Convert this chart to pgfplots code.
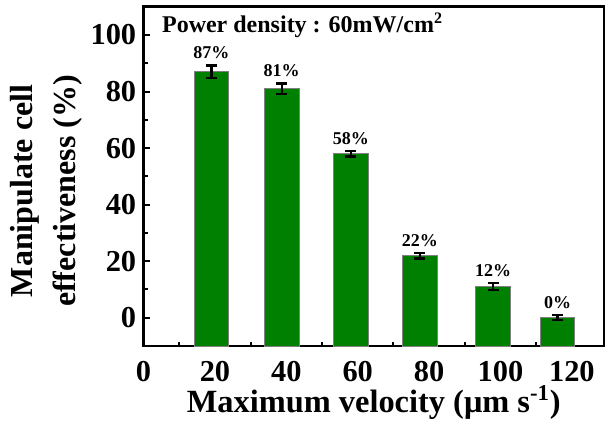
\documentclass[border=0pt]{standalone}
\usepackage{fontspec}
\setmainfont{Liberation Serif}
\usepackage{pgfplots}
\usepackage{pgfplotstable}
\pgfplotsset{compat=1.18}
\definecolor{bargreen}{RGB}{0,128,0}
\pgfplotstableread{
x y e lab
19.0 87 2.2 87
38.7 81 1.9 81
58.1 58 1.0 58
77.4 22 1.0 22
97.9 11 1.2 12
116.0 0 0.9 0
}\datatable
\begin{document}
\begin{tikzpicture}
\path[use as bounding box] (-71.8pt,-39.5pt) rectangle (230.7pt,173pt);
\begin{axis}[
  at={(0pt,0pt)}, anchor=south west,
  scale only axis, width=230.2pt, height=169.65pt,
  xmin=0, xmax=129, ymin=-10, ymax=110,
  xtick={0,20,...,120}, ytick={0,20,...,100},
  minor x tick num=1, minor y tick num=1,
  tick align=inside, xtick pos=bottom, ytick pos=left,
  major tick length=3.2pt, minor tick length=2pt,
  every tick/.style={black, line width=1pt},
  axis line style={line width=1.3pt},
  font=\bfseries,
  /pgf/number format/assume math mode=true,
  tick label style={font=\fontsize{15.2}{18}\selectfont\bfseries},
  yticklabel style={inner sep=0pt, xshift=-3.5pt},
  xticklabel style={inner sep=0pt, yshift=-7.3pt},
  xlabel={Maximum velocity (μm s\textsuperscript{-1})},
  xlabel style={at={(axis description cs:0.5,-0.197)}, anchor=base, inner sep=0pt, font=\fontsize{16.2}{19}\selectfont\bfseries},
  ylabel={Manipulate cell\\effectiveness (\%)},
  ylabel style={at={(axis description cs:-0.212,0.457)}, anchor=center, align=center, font=\fontsize{16}{21.5}\selectfont\bfseries},
]
\addplot[fill=bargreen, draw=gray, line width=0.4pt] coordinates {(14.18,-10) (14.18,87) (23.82,87) (23.82,-10)} -- cycle;
\addplot[fill=bargreen, draw=gray, line width=0.4pt] coordinates {(33.88,-10) (33.88,81) (43.52,81) (43.52,-10)} -- cycle;
\addplot[fill=bargreen, draw=gray, line width=0.4pt] coordinates {(53.28,-10) (53.28,58) (62.92,58) (62.92,-10)} -- cycle;
\addplot[fill=bargreen, draw=gray, line width=0.4pt] coordinates {(72.58,-10) (72.58,22) (82.22,22) (82.22,-10)} -- cycle;
\addplot[fill=bargreen, draw=gray, line width=0.4pt] coordinates {(93.08,-10) (93.08,11) (102.72,11) (102.72,-10)} -- cycle;
\addplot[fill=bargreen, draw=gray, line width=0.4pt] coordinates {(111.18,-10) (111.18,0) (120.82,0) (120.82,-10)} -- cycle;
\addplot[draw=none, mark=none,
  error bars/.cd, y dir=both, y explicit,
  error bar style={draw=black, solid, line width=1.2pt},
  error mark options={draw=black, solid, line width=1.2pt, rotate=90, mark size=2.75pt}]
  table[x=x, y=y, y error=e] {\datatable};
\addplot[draw=none, mark=none, point meta=explicit symbolic,
  nodes near coords={\pgfplotspointmeta\%},
  nodes near coords style={anchor=south, inner sep=0pt, yshift=3pt, font=\fontsize{9}{10}\selectfont\bfseries}]
  table[x=x, y expr=\thisrow{y}+\thisrow{e}, meta=lab] {\datatable};
\node[anchor=base west, inner sep=0pt, font=\fontsize{12}{14}\selectfont\bfseries] at (axis description cs:0.0393,0.9245) {Power density : 60mW/cm\textsuperscript{2}};
\end{axis}
\end{tikzpicture}
\end{document}
